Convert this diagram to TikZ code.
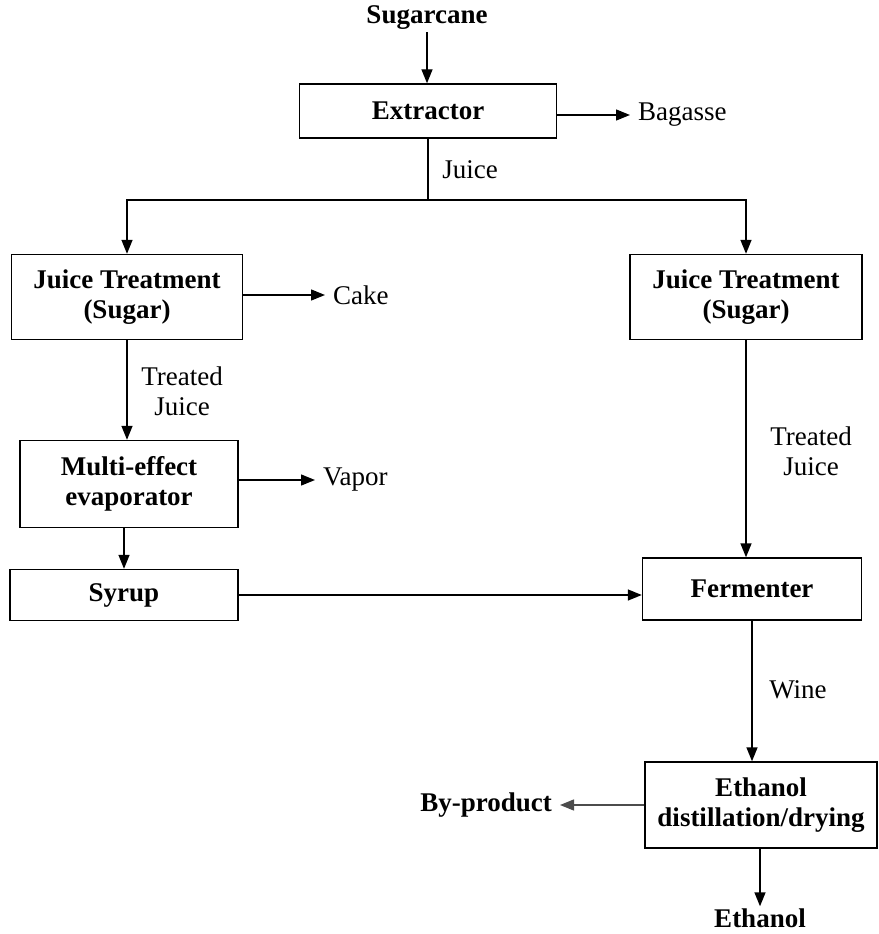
\documentclass[tikz,border=0pt]{standalone}
\usepackage{fontspec}
\setmainfont{Liberation Serif}
\usetikzlibrary{positioning,arrows.meta}

\begin{document}
\begin{tikzpicture}[
  x=1pt, y=-1pt,
  font=\fontsize{27}{30}\selectfont,
  unit/.style={rectangle, draw=black, line width=1.4pt, inner sep=2pt,
               align=center, font=\fontsize{27}{30}\selectfont\bfseries},
  label/.style={inner sep=2pt, align=center},
  side/.style={label, inner sep=8pt},
  edge/.style={draw=black, line width=1.4pt},
  arr/.style={edge, -{Triangle[length=14pt,width=11pt]}}
]
\useasboundingbox (0,0) rectangle (878,934);

\node[label, font=\fontsize{27}{30}\selectfont\bfseries] (sug) at (427,18) {Sugarcane};
\node[unit, minimum width=257pt, minimum height=54pt] (ext) at (428,111) {Extractor};
\node[side, anchor=west] (bag) at (630,115) {Bagasse};
\node[label] (juice) at (470,170) {Juice};
\coordinate (split) at (428,200);

\node[unit, minimum width=231pt, minimum height=85pt] (jt1) at (127,297) {Juice Treatment\\(Sugar)};
\node[side, anchor=west] (cake) at (325,295) {Cake};
\node[label] (tj1) at (182,391) {Treated\\Juice};
\node[unit, minimum width=218pt, minimum height=87pt] (mee) at (129,484) {Multi-effect\\evaporator};
\node[side, anchor=west] (vap) at (315,480) {Vapor};
\node[unit, minimum width=228pt, minimum height=51pt] (syr) at (124,595) {Syrup};

\node[unit, minimum width=232pt, minimum height=85pt] (jt2) at (746,297) {Juice Treatment\\(Sugar)};
\node[label] (tj2) at (811,451) {Treated\\Juice};
\node[unit, minimum width=219pt, minimum height=62pt] (ferm) at (752,589) {Fermenter};
\node[label] (wine) at (798,690) {Wine};
\node[unit, minimum width=232pt, minimum height=86pt] (dist) at (761,805) {Ethanol\\distillation/drying};
\node[side, anchor=east, font=\fontsize{27}{30}\selectfont\bfseries] (byp) at (560,805) {By-product};
\node[label, font=\fontsize{27}{30}\selectfont\bfseries] (eth) at (760,918) {Ethanol};

\draw[arr] (sug.south) -- (sug.south |- ext.north);
\draw[arr] (ext.east |- bag) -- (bag);
\draw[edge] (ext.south) -- (split);
\draw[arr] (split) -| (jt1.north);
\draw[arr] (split) -| (jt2.north);

\draw[arr] (jt1.east |- cake) -- (cake);
\draw[arr] (jt1.south) -- (jt1.south |- mee.north);
\draw[arr] (mee.east |- vap) -- (vap);
\draw[arr] (mee.south -| syr.north) -- (syr.north);
\draw[arr] (syr.east) -- (syr.east -| ferm.west);

\draw[arr] (jt2.south) -- (jt2.south |- ferm.north);
\draw[arr] (ferm.south) -- (ferm.south |- dist.north);
\draw[arr, draw=black!70] (dist.west |- byp) -- (byp);
\draw[arr] (dist.south -| eth.north) -- (eth.north);
\end{tikzpicture}
\end{document}
